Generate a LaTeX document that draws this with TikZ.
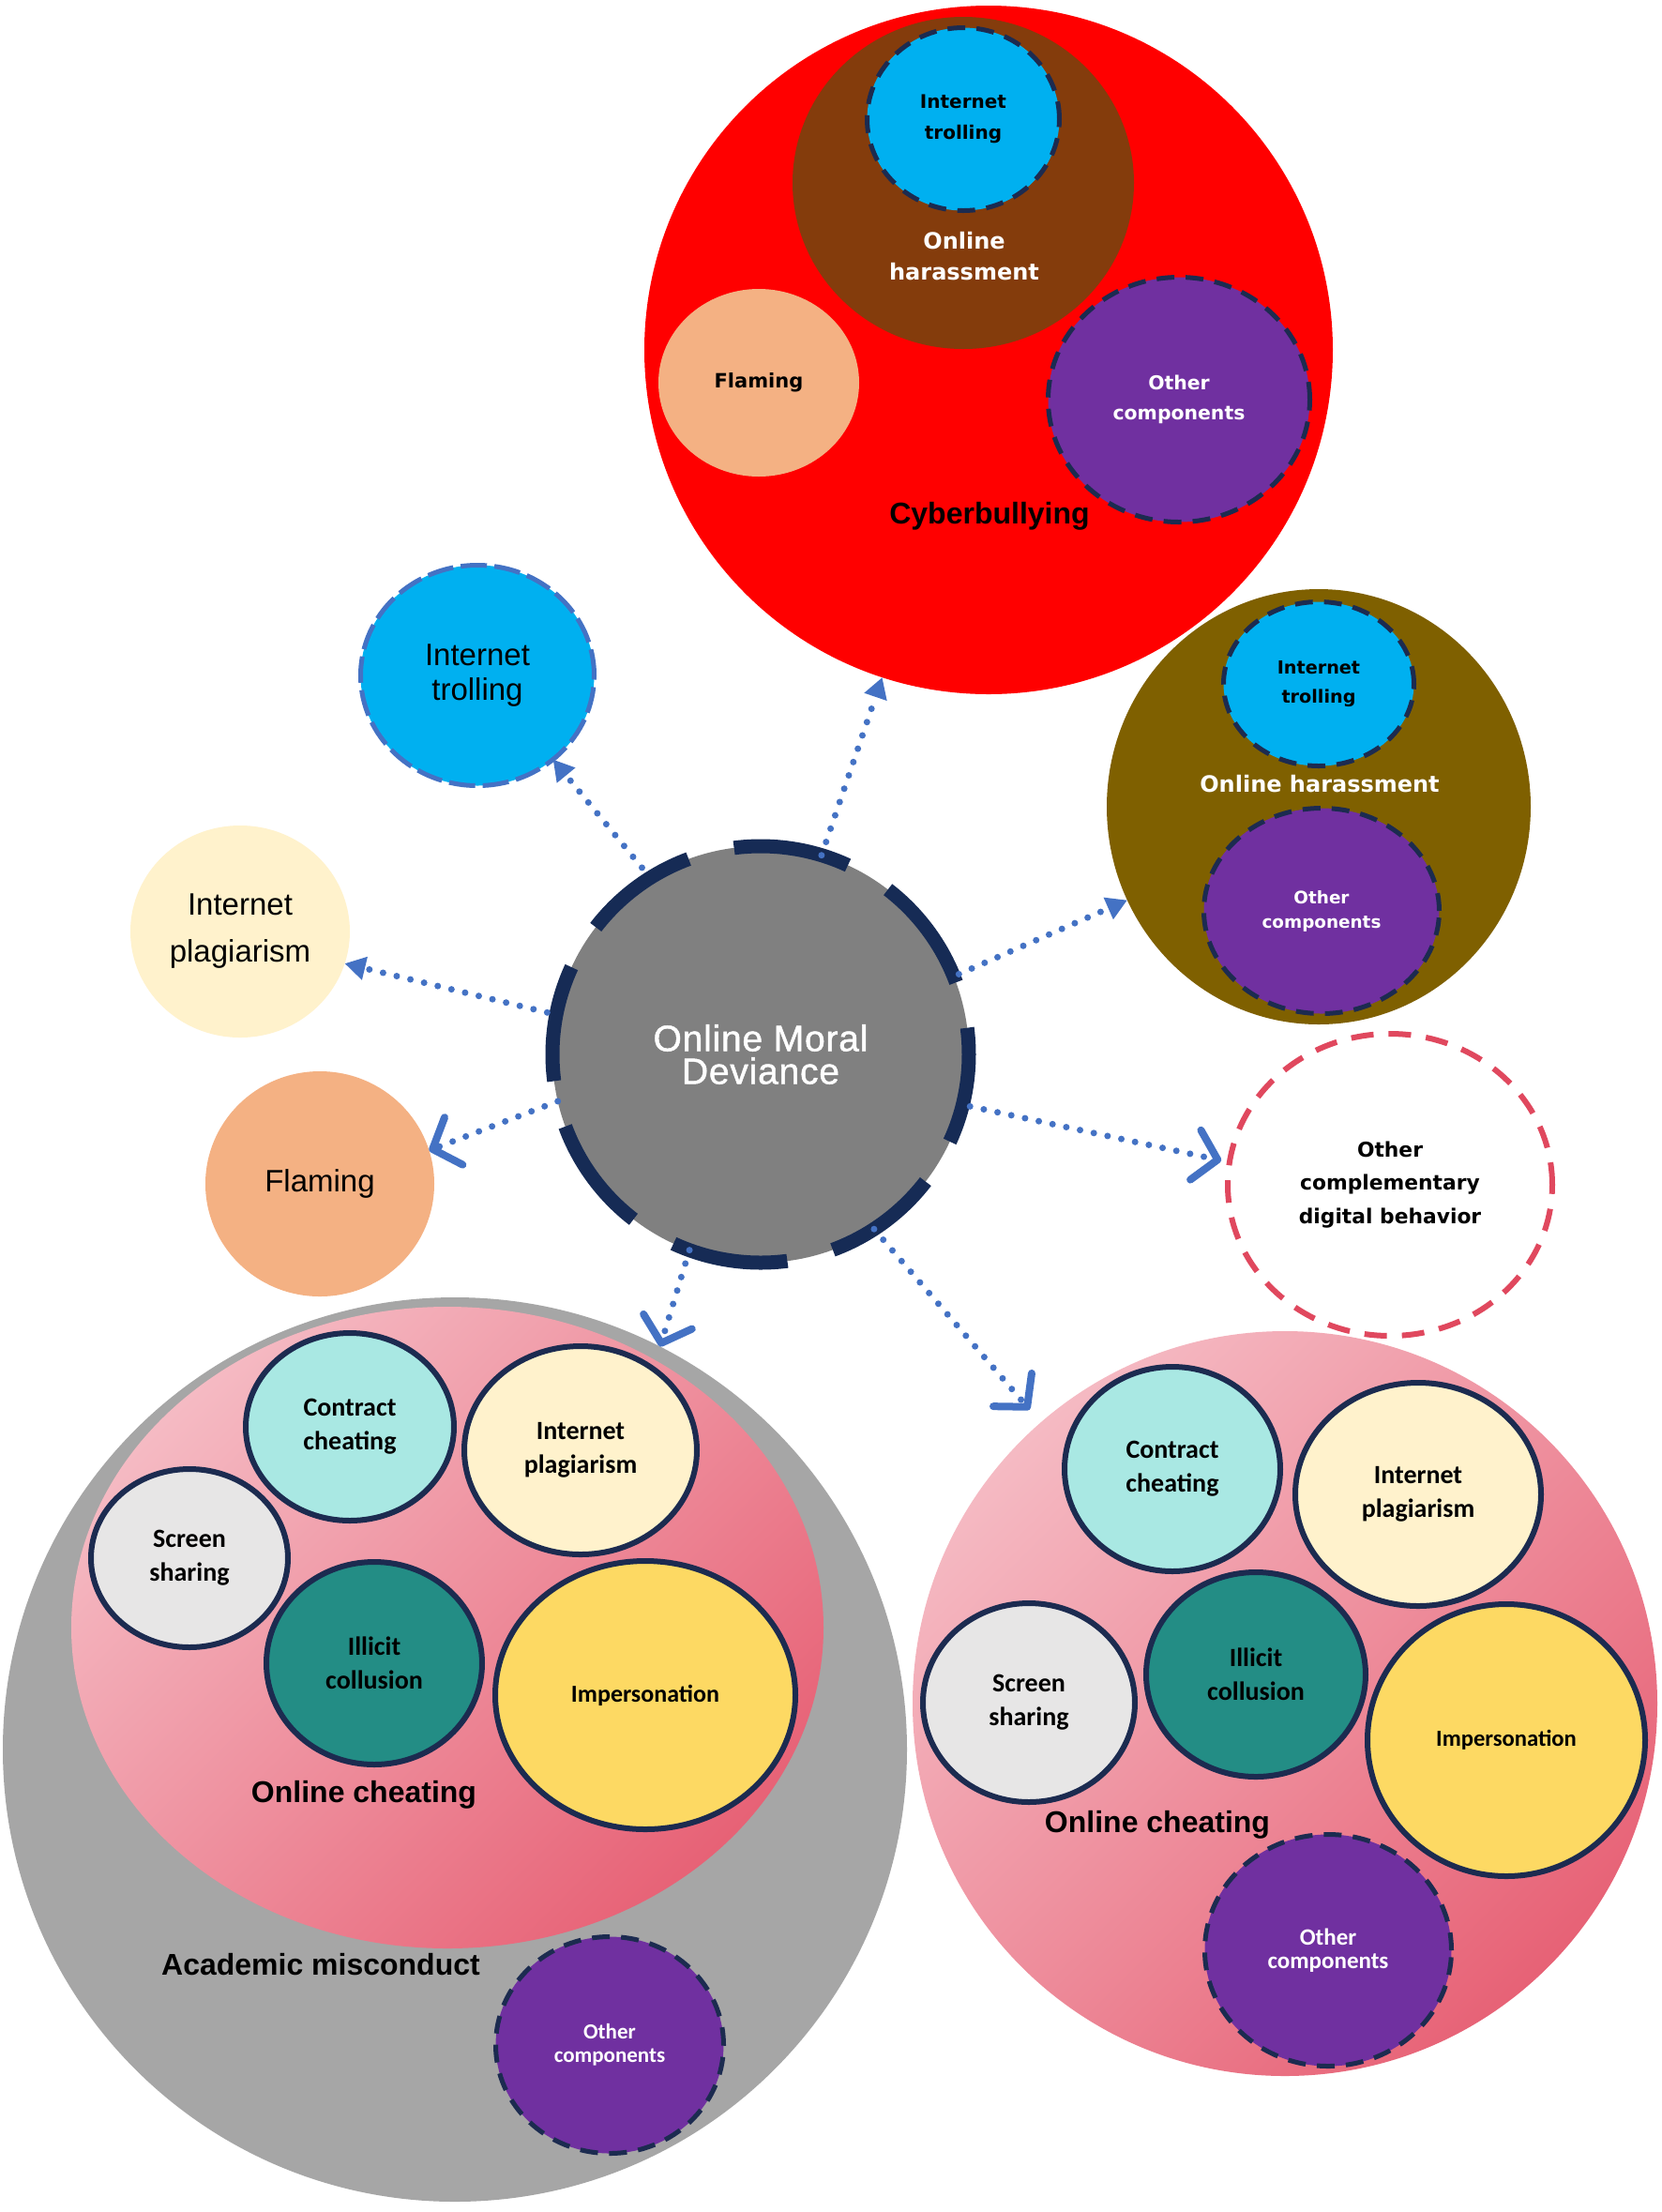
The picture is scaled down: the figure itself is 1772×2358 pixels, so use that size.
\documentclass[tikz,border=0pt]{standalone}
\usepackage{fontspec}
\setmainfont{Liberation Sans}
\newfontfamily\carl{Carlito}
\newfontfamily\dvs{DejaVu Sans}
\newfontfamily\semib{Liberation Sans}[FakeBold=1.2,LetterSpace=2]
\usetikzlibrary{shapes.geometric,arrows.meta}
\newcommand\fs[2]{\fontsize{#1}{#2}\selectfont}
\definecolor{cbred}{HTML}{FF0000}
\definecolor{brownh}{HTML}{843C0C}
\definecolor{cyanT}{HTML}{00B0F0}
\definecolor{flam}{HTML}{F4B183}
\definecolor{purp}{HTML}{7030A0}
\definecolor{navy}{HTML}{1C2B50}
\definecolor{cnavy}{HTML}{162B55}
\definecolor{olive}{HTML}{7F6000}
\definecolor{cream}{HTML}{FFF2CC}
\definecolor{abl}{HTML}{4472C4}
\definecolor{cgray}{HTML}{808080}
\definecolor{redd}{HTML}{E0485E}
\definecolor{ggray}{HTML}{A6A6A6}
\definecolor{pinkL}{HTML}{F5BAC3}
\definecolor{pinkD}{HTML}{E76276}
\definecolor{mint}{HTML}{A9E8E3}
\definecolor{lgray}{HTML}{E7E6E6}
\definecolor{teal}{HTML}{238D85}
\definecolor{gold}{HTML}{FDD963}
\begin{document}
\begin{tikzpicture}[x=0.5pt,y=-0.5pt,
  blob/.style={ellipse, inner sep=0pt, outer sep=0pt, align=center},
  rnd/.style={circle, inner sep=0pt, outer sep=0pt, align=center},
  ndash/.style={draw=navy, line width=2.5pt, dash pattern=on 9.5pt off 6pt},
  nsolid/.style={draw=navy, line width=3pt},
  calf/.style={font=\carl\bfseries\fs{14}{18}},
  lbl/.style={inner sep=0pt, align=center},
  conn/.style={draw=abl, line width=3.5pt, line cap=round, dash pattern=on 0pt off 7.5pt},
  tri/.style={conn, -{Triangle[length=11pt,width=12pt]}},
  vee/.style={conn, -{Straight Barb[length=12pt,width=27pt,line width=4pt,round]}}
]
\path[fill=white] (0,0) rectangle (1772,2358);
\useasboundingbox (0,0) rectangle (1772,2358);

% ---------- Cyberbullying ----------
\node[rnd, fill=cbred, minimum size=367pt] (cyber) at (1054,373) {};
\node[blob, fill=brownh, minimum width=182pt, minimum height=177pt] (brown) at (1027,195) {};
\node[blob, fill=cyanT, ndash, minimum width=102.5pt, minimum height=97.5pt,
      font=\dvs\bfseries\fs{10}{16.5}] (ctroll) at (1027,127) {Internet\\trolling};
\node[lbl, text=white, font=\dvs\bfseries\fs{12}{16.5}] (charass) at (1028,273) {Online\\harassment};
\node[blob, fill=flam, minimum width=107pt, minimum height=100pt,
      font=\dvs\bfseries\fs{10.5}{14}] (cflam) at (809,408) {Flaming};
\node[blob, fill=purp, ndash, minimum width=139.5pt, minimum height=130.5pt, text=white,
      font=\dvs\bfseries\fs{10.2}{16}] (cother) at (1257,426) {Other\\components};
\node[lbl, font=\bfseries\fs{16}{18}] (cblbl) at (1055,550) {Cyberbullying};

% ---------- Online harassment (olive) ----------
\node[blob, fill=olive, minimum width=226pt, minimum height=232pt] (olive) at (1406,860) {};
\node[blob, fill=cyanT, ndash, minimum width=101.5pt, minimum height=87.5pt,
      font=\dvs\bfseries\fs{9.6}{15.7}] (otroll) at (1406,729) {Internet\\trolling};
\node[lbl, text=white, font=\dvs\bfseries\fs{12}{13}] (oharass) at (1407,836) {Online harassment};
\node[blob, fill=purp, ndash, minimum width=125.5pt, minimum height=109.5pt, text=white,
      font=\dvs\bfseries\fs{9.2}{13}] (oother) at (1409,971) {Other\\components};

% ---------- Other complementary ----------
\node[blob, draw=redd, line width=3pt, dash pattern=on 12pt off 8pt, fill=white,
      minimum width=173pt, minimum height=161pt, font=\dvs\bfseries\fs{10.9}{17.6}] (ocdb) at (1482,1263)
      {Other\\complementary\\digital behavior};

% ---------- standalone ----------
\node[blob, fill=cyanT, draw=abl, line width=2.5pt, dash pattern=on 14pt off 4pt,
      minimum width=124.5pt, minimum height=117.5pt, font=\fs{16.5}{18.5}] (strol) at (509,720) {Internet\\trolling};
\node[blob, fill=cream, minimum width=117pt, minimum height=113pt,
      font=\fs{16.5}{25}] (splag) at (256,993) {Internet\\plagiarism};
\node[blob, fill=flam, minimum width=122pt, minimum height=120pt,
      font=\fs{16.5}{18}] (sflam) at (341,1262) {Flaming};

% ---------- Academic misconduct ----------
\node[rnd, fill=ggray, minimum size=482pt] (gray) at (485,1865) {};
\node[blob, top color=pinkL, bottom color=pinkD, shading angle=45,
      minimum width=401pt, minimum height=342pt] (pinkL) at (477,1735) {};
\node[blob, fill=mint, nsolid, minimum width=111pt, minimum height=100pt, calf] (contractL) at (373,1521) {Contract\\cheating};
\node[blob, fill=cream, nsolid, minimum width=124pt, minimum height=111pt, calf] (plagL) at (619,1546) {Internet\\plagiarism};
\node[blob, fill=lgray, nsolid, minimum width=105pt, minimum height=95pt, calf] (screenL) at (202,1661) {Screen\\sharing};
\node[blob, fill=teal, nsolid, minimum width=115pt, minimum height=108pt, calf] (illicitL) at (399,1773) {Illicit\\collusion};
\node[blob, fill=gold, nsolid, minimum width=160pt, minimum height=143pt,
      font=\carl\bfseries\fs{13}{16}] (impL) at (688,1807) {Impersonation};
\node[lbl, font=\bfseries\fs{16}{18}] (oclblL) at (388,1913) {Online cheating};
\node[lbl, font=\bfseries\fs{16}{18}] (amlbl) at (342,2094) {Academic misconduct};
\node[blob, fill=purp, ndash, minimum width=121.5pt, minimum height=115.5pt, text=white,
      font=\carl\bfseries\fs{11.5}{12.6}] (otherL) at (650,2180) {Other\\components};

% ---------- Online cheating (right) ----------
\node[rnd, top color=pinkL, bottom color=pinkD, shading angle=45, minimum size=397pt] (pinkR) at (1370,1816) {};
\node[blob, fill=mint, nsolid, minimum width=115pt, minimum height=109pt, calf] (contractR) at (1250,1566) {Contract\\cheating};
\node[blob, fill=cream, nsolid, minimum width=131pt, minimum height=119pt, calf] (plagR) at (1512,1593) {Internet\\plagiarism};
\node[blob, fill=lgray, nsolid, minimum width=113pt, minimum height=106pt, calf] (screenR) at (1097,1815) {Screen\\sharing};
\node[blob, fill=teal, nsolid, minimum width=117pt, minimum height=109pt, calf] (illicitR) at (1339,1785) {Illicit\\collusion};
\node[blob, fill=gold, nsolid, minimum width=148pt, minimum height=145pt,
      font=\carl\bfseries\fs{12.3}{16}] (impR) at (1606,1855) {Impersonation};
\node[lbl, font=\bfseries\fs{16}{18}] (oclblR) at (1234,1945) {Online cheating};
\node[blob, fill=purp, ndash, minimum width=131.5pt, minimum height=123.5pt, text=white,
      font=\carl\bfseries\fs{12.5}{12.6}] (otherR) at (1416,2079) {Other\\components};

% ---------- centre ----------
\node[rnd, fill=cgray, draw=cnavy, line width=7.5pt, dash pattern=on 62.2pt off 25pt, dash phase=48pt,
      minimum size=222pt, text=white, font=\semib\fs{19.5}{17.5}] (omd) at (811,1124) {Online Moral\\Deviance};

% ---------- connectors ----------
\draw[tri] (omd.73) -- (cyber.252);
\draw[tri, shorten <=7pt] (omd.122) -- (strol.312);
\draw[tri, shorten <=5pt] (omd.169) -- (splag.343);
\draw[vee] (omd.193) -- (sflam.17);
\draw[tri, shorten <=3pt] (omd.22) -- (olive.206);
\draw[vee, shorten <=4pt, shorten >=4.5pt] (omd.346) -- (ocdb.172);
\draw[vee] (omd.250) -- (gray.63);
\draw[vee, shorten >=9pt] (omd.303) -- (pinkR.131);
\end{tikzpicture}
\end{document}
